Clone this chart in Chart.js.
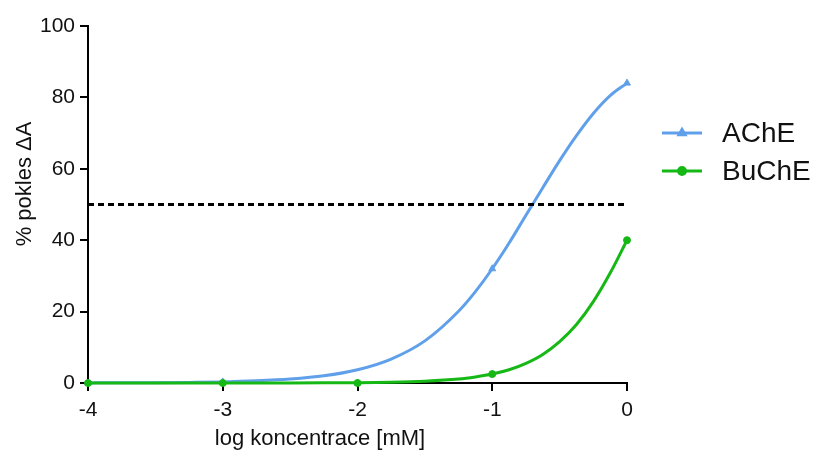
<!DOCTYPE html>
<html>
<head>
<meta charset="utf-8">
<script src="https://cdn.jsdelivr.net/npm/chart.js@4"></script>
<style>
  body { margin: 0; background: #fff; }
  #wrap { width: 817px; height: 461px; }
</style>
</head>
<body>
<div id="wrap"><canvas id="c"></canvas></div>
<script>
// fitted curves
var logConc = [-4, -3.75, -3.5, -3.25, -3, -2.75, -2.5, -2.25, -2, -1.75, -1.5, -1.25, -1.125,
  -1, -0.875, -0.75, -0.625, -0.5, -0.375, -0.25, -0.125, 0];
var acheFit = [0.03, 0.05, 0.09, 0.17, 0.3, 0.6, 1.1, 2.0, 3.7, 6.7, 11.8, 20.1, 25.6,
  32, 39.2, 47, 54.7, 62.3, 69.3, 75.5, 80.5, 84];
var bucheFit = [0, 0, 0, 0, 0, 0.01, 0.02, 0.05, 0.1, 0.22, 0.5, 1.1, 1.7,
  2.5, 3.7, 5.5, 8.0, 11.6, 16.4, 22.8, 30.8, 40];

// measured points
var measConc = [-4, -3, -2, -1, 0];
var acheMeas = [0, 0.3, 0, 32, 84];
var bucheMeas = [0, 0, 0, 2.5, 40];

var halfLine = 50;
var yTicks = [0, 20, 40, 60, 80, 100];

var xTitle = 'log koncentrace [mM]';
var yTitle = '% pokles \u0394A';

var blue = 'rgb(96,160,234)';
var green = 'rgb(22,184,22)';
var font = "'Liberation Sans', Arial, sans-serif";

function pts(xs, ys) {
  return xs.map(function(x, i) { return { x: x, y: ys[i] }; });
}

var legendItems = [
  { label: 'AChE', color: blue, style: 'triangle' },
  { label: 'BuChE', color: green, style: 'circle' }
];

// legend and axis titles drawn by hand so they sit where the original has them
var extras = {
  id: 'extras',
  afterDraw: function(chart) {
    var ctx = chart.ctx;
    ctx.save();
    legendItems.forEach(function(item, i) {
      var y = 133 + i * 38;
      ctx.strokeStyle = item.color;
      ctx.lineWidth = 3;
      ctx.beginPath();
      ctx.moveTo(662, y);
      ctx.lineTo(702, y);
      ctx.stroke();
      Chart.helpers.drawPoint(ctx, { pointStyle: item.style, radius: 3.5, borderWidth: 1 }, 682, y);
      ctx.fillStyle = item.color;
      ctx.fill();
      ctx.fillStyle = '#111';
      ctx.font = '28px ' + font;
      ctx.textBaseline = 'middle';
      ctx.textAlign = 'left';
      ctx.fillText(item.label, 722, y + 1);
    });

    ctx.fillStyle = '#111';
    ctx.font = '22px ' + font;
    ctx.textAlign = 'center';
    ctx.textBaseline = 'middle';
    ctx.fillText(xTitle, 320, 439);

    ctx.translate(25, 184);
    ctx.rotate(-Math.PI / 2);
    ctx.fillText(yTitle, 0, 0);
    ctx.restore();
  }
};

new Chart(document.getElementById('c'), {
  type: 'line',
  data: {
    datasets: [
      {
        data: pts([-4, 0], [halfLine, halfLine]),
        borderColor: '#000',
        borderWidth: 3,
        borderDash: [6, 4],
        pointRadius: 0
      },
      {
        label: 'BuChE fit',
        data: pts(logConc, bucheFit),
        borderColor: green,
        borderWidth: 3,
        cubicInterpolationMode: 'monotone',
        pointRadius: 0
      },
      {
        label: 'BuChE',
        data: pts(measConc, bucheMeas),
        showLine: false,
        pointStyle: 'circle',
        pointRadius: 3.5,
        backgroundColor: green,
        borderColor: green
      },
      {
        label: 'AChE fit',
        data: pts(logConc, acheFit),
        borderColor: blue,
        borderWidth: 3,
        cubicInterpolationMode: 'monotone',
        pointRadius: 0
      },
      {
        label: 'AChE',
        data: pts(measConc, acheMeas),
        showLine: false,
        pointStyle: 'triangle',
        pointRadius: 4,
        backgroundColor: blue,
        borderColor: blue
      }
    ]
  },
  options: {
    responsive: true,
    maintainAspectRatio: false,
    animation: false,
    clip: false,
    layout: { padding: { left: 0, top: 26, right: 190, bottom: 0 } },
    plugins: {
      legend: { display: false },
      tooltip: { enabled: false }
    },
    scales: {
      x: {
        type: 'linear',
        min: -4,
        max: 0,
        afterFit: function(scale) { scale.height = 78; },
        border: { color: '#000', width: 2 },
        grid: { drawOnChartArea: false, drawTicks: true, tickLength: 8, color: '#000', lineWidth: 2 },
        ticks: { stepSize: 1, color: '#111', padding: 7, font: { family: font, size: 21 } }
      },
      y: {
        min: 0,
        max: 100,
        afterFit: function(scale) { scale.width = 88; },
        afterBuildTicks: function(scale) { scale.ticks = yTicks.map(function(v) { return { value: v }; }); },
        border: { color: '#000', width: 2 },
        grid: { drawOnChartArea: false, drawTicks: true, tickLength: 8, color: '#000', lineWidth: 2 },
        ticks: { color: '#111', padding: 5, font: { family: font, size: 21 } }
      }
    }
  },
  plugins: [extras]
});
</script>
</body>
</html>
